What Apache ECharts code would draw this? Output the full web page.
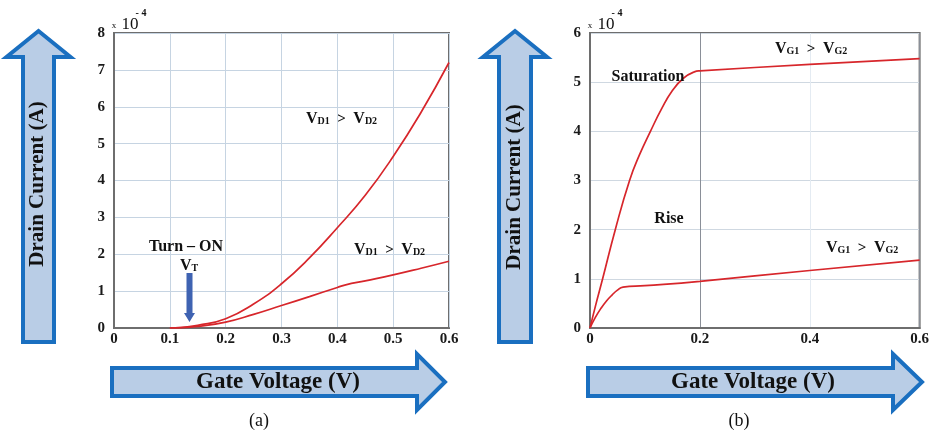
<!DOCTYPE html>
<html>
<head>
<meta charset="utf-8">
<script src="https://cdn.jsdelivr.net/npm/echarts@6/dist/echarts.min.js"></script>
<style>
html,body{margin:0;padding:0;background:#fff;}
#chart{width:932px;height:433px;}
</style>
</head>
<body>
<div id="chart"></div>
<script>
// ---- Panel (a): drain current (x1e-4 A) vs gate voltage (V)
const voltA_upper = [0.10, 0.12, 0.15, 0.20, 0.25, 0.30, 0.35, 0.40, 0.45, 0.50, 0.55, 0.60];
const currA_upper = [0.00, 0.01, 0.07, 0.25, 0.65, 1.20, 1.90, 2.72, 3.60, 4.65, 5.85, 7.20];
const voltA_lower = [0.10, 0.12, 0.15, 0.20, 0.25, 0.30, 0.35, 0.40, 0.415, 0.45, 0.50, 0.55, 0.60];
const currA_lower = [0.00, 0.01, 0.04, 0.16, 0.37, 0.61, 0.85, 1.10, 1.17, 1.28, 1.44, 1.62, 1.81];

// ---- Panel (b)
const voltB_upper = [0.00, 0.01, 0.023, 0.046, 0.072, 0.09, 0.11, 0.13, 0.15, 0.17, 0.19, 0.20, 0.40, 0.60];
const currB_upper = [0.00, 0.45, 1.00, 2.00, 3.00, 3.52, 4.00, 4.45, 4.83, 5.08, 5.21, 5.23, 5.36, 5.48];
const voltB_lower = [0.00, 0.01, 0.02, 0.03, 0.04, 0.05, 0.06, 0.10, 0.20, 0.40, 0.60];
const currB_lower = [0.00, 0.22, 0.40, 0.55, 0.67, 0.77, 0.83, 0.86, 0.95, 1.17, 1.38];

const xTicksA = {min: 0, max: 0.6, interval: 0.1};
const yTicksA = {min: 0, max: 8, interval: 1};
const xTicksB = {min: 0, max: 0.6, interval: 0.2};
const yTicksB = {min: 0, max: 6, interval: 1};

const zip = (xs, ys) => xs.map((x, i) => [x, ys[i]]);

const SERIF = "'Liberation Serif', 'DejaVu Serif', serif";
const RED = '#d7262b';
const ARROW_FILL = '#b9cde6';
const ARROW_STROKE = '#1a6fc0';

const tickLabel = {fontFamily: SERIF, fontWeight: 'bold', fontSize: 15, color: '#1a1a1a'};

function xAxisCfg(idx, t, splitColor) {
  return {
    type: 'value', gridIndex: idx, min: t.min, max: t.max, interval: t.interval,
    axisLine: {show: true, lineStyle: {color: '#6e6e6e', width: 2}},
    axisTick: {show: false},
    axisLabel: Object.assign({margin: 4}, tickLabel),
    splitLine: {show: true, lineStyle: {color: splitColor, width: 1}}
  };
}
function yAxisCfg(idx, t, splitColor) {
  return {
    type: 'value', gridIndex: idx, min: t.min, max: t.max, interval: t.interval,
    axisLine: {show: true, lineStyle: {color: '#6e6e6e', width: 2}},
    axisTick: {show: false},
    axisLabel: Object.assign({margin: 9}, tickLabel),
    splitLine: {show: true, lineStyle: {color: splitColor, width: 1}}
  };
}

function lineSeries(xi, yi, data) {
  return {
    type: 'line', xAxisIndex: xi, yAxisIndex: yi, data: data,
    smooth: 0.5, showSymbol: false, symbol: 'none',
    lineStyle: {color: RED, width: 1.7}, z: 3, silent: true
  };
}

function vArrow(cx, shaftHalf, headHalf, top, headBase, bottom) {
  return {
    type: 'polygon',
    shape: {points: [[cx - shaftHalf, bottom], [cx - shaftHalf, headBase], [cx - headHalf, headBase], [cx, top],
                     [cx + headHalf, headBase], [cx + shaftHalf, headBase], [cx + shaftHalf, bottom]]},
    style: {fill: ARROW_FILL, stroke: ARROW_STROKE, lineWidth: 4, lineJoin: 'miter'}
  };
}
function hArrow(left, headStart, tip, cy, shaftHalf, headHalf) {
  return {
    type: 'polygon',
    shape: {points: [[left, cy - shaftHalf], [headStart, cy - shaftHalf], [headStart, cy - headHalf], [tip, cy],
                     [headStart, cy + headHalf], [headStart, cy + shaftHalf], [left, cy + shaftHalf]]},
    style: {fill: ARROW_FILL, stroke: ARROW_STROKE, lineWidth: 4, lineJoin: 'miter'}
  };
}
function txt(x, y, text, size, opts) {
  return {
    type: 'text', x: x, y: y, z: 10,
    style: Object.assign({text: text, fontFamily: SERIF, fontWeight: 'bold', fontSize: size, fill: '#111',
                          align: 'center', verticalAlign: 'middle'}, opts || {})
  };
}
const subRich = {
  v: {fontFamily: SERIF, fontWeight: 'bold', fontSize: 16, fill: '#111', lineHeight: 18, verticalAlign: 'bottom'},
  s: {fontFamily: SERIF, fontWeight: 'bold', fontSize: 10, fill: '#111', lineHeight: 18, verticalAlign: 'bottom', padding: [0, 0, 1, 0]},
  g: {fontFamily: SERIF, fontWeight: 'bold', fontSize: 15, fill: '#111', lineHeight: 18, verticalAlign: 'bottom'}
};
function subText(x, y, a, b) {
  return {
    type: 'text', x: x, y: y, z: 10,
    style: {text: '{v|V}{s|' + a + '}{g|  >  }{v|V}{s|' + b + '}', rich: subRich, align: 'left', verticalAlign: 'middle'}
  };
}
function expLabel(x, y) {
  return [
    txt(x, y + 2, 'x', 9, {fontWeight: 'normal'}),
    txt(x + 16, y + 1, '10', 17, {fontWeight: 'normal'}),
    txt(x + 27, y - 11, '- 4', 10, {})
  ];
}

const chart = echarts.init(document.getElementById('chart'), null, {renderer: 'canvas'});

const option = {
  backgroundColor: '#ffffff',
  animation: false,
  grid: [
    {left: 114, top: 33, width: 335, height: 295, show: true, borderColor: '#6e6e6e', borderWidth: 2, backgroundColor: 'transparent'},
    {left: 590, top: 33, width: 335, height: 295, show: true, borderColor: '#6e6e6e', borderWidth: 2, backgroundColor: 'transparent'}
  ],
  xAxis: [
    xAxisCfg(0, xTicksA, '#c6d4e2'),
    xAxisCfg(1, xTicksB, ['#8a8f98', '#8a8f98', '#e4ebf2', '#8a8f98'])
  ],
  yAxis: [
    yAxisCfg(0, yTicksA, '#c6d4e2'),
    yAxisCfg(1, yTicksB, '#cfd8e1')
  ],
  series: [
    lineSeries(0, 0, zip(voltA_upper, currA_upper)),
    lineSeries(0, 0, zip(voltA_lower, currA_lower)),
    lineSeries(1, 1, zip(voltB_upper, currB_upper)),
    lineSeries(1, 1, zip(voltB_lower, currB_lower))
  ],
  graphic: [
    // big arrows, panel (a)
    vArrow(38.5, 15.5, 32, 31, 57, 342),
    hArrow(112, 417, 445, 382, 14, 28),
    // big arrows, panel (b)
    vArrow(515, 16, 32, 31, 57, 342),
    hArrow(588, 893, 922, 382, 14, 28),
    // arrow captions
    Object.assign(txt(38, 184, 'Drain Current (A)', 21), {rotation: Math.PI / 2}),
    txt(278, 382, 'Gate Voltage (V)', 23),
    Object.assign(txt(515, 187, 'Drain Current (A)', 21), {rotation: Math.PI / 2}),
    txt(753, 382, 'Gate Voltage (V)', 23),
    // panel captions
    txt(259, 421, '(a)', 18, {fontWeight: 'normal'}),
    txt(739, 421, '(b)', 18, {fontWeight: 'normal'}),
    // exponent labels
    ...expLabel(114, 24),
    ...expLabel(590, 24),
    // panel (a) annotations
    subText(306, 118, 'D1', 'D2'),
    subText(354, 249, 'D1', 'D2'),
    txt(186, 247, 'Turn \u2013 ON', 16),
    {
      type: 'text', x: 189, y: 265, z: 10,
      style: {text: '{v|V}{s|T}', rich: subRich, align: 'center', verticalAlign: 'middle'}
    },
    {
      type: 'polygon', z: 10,
      shape: {points: [[186.5, 273], [192.5, 273], [192.5, 313], [195, 313], [189.5, 322], [184, 313], [186.5, 313]]},
      style: {fill: '#3f63b2'}
    },
    // panel (b) annotations
    txt(648, 77, 'Saturation', 16),
    txt(669, 219, 'Rise', 16),
    subText(775, 48, 'G1', 'G2'),
    subText(826, 247, 'G1', 'G2')
  ]
};
chart.setOption(option);
</script>
</body>
</html>
